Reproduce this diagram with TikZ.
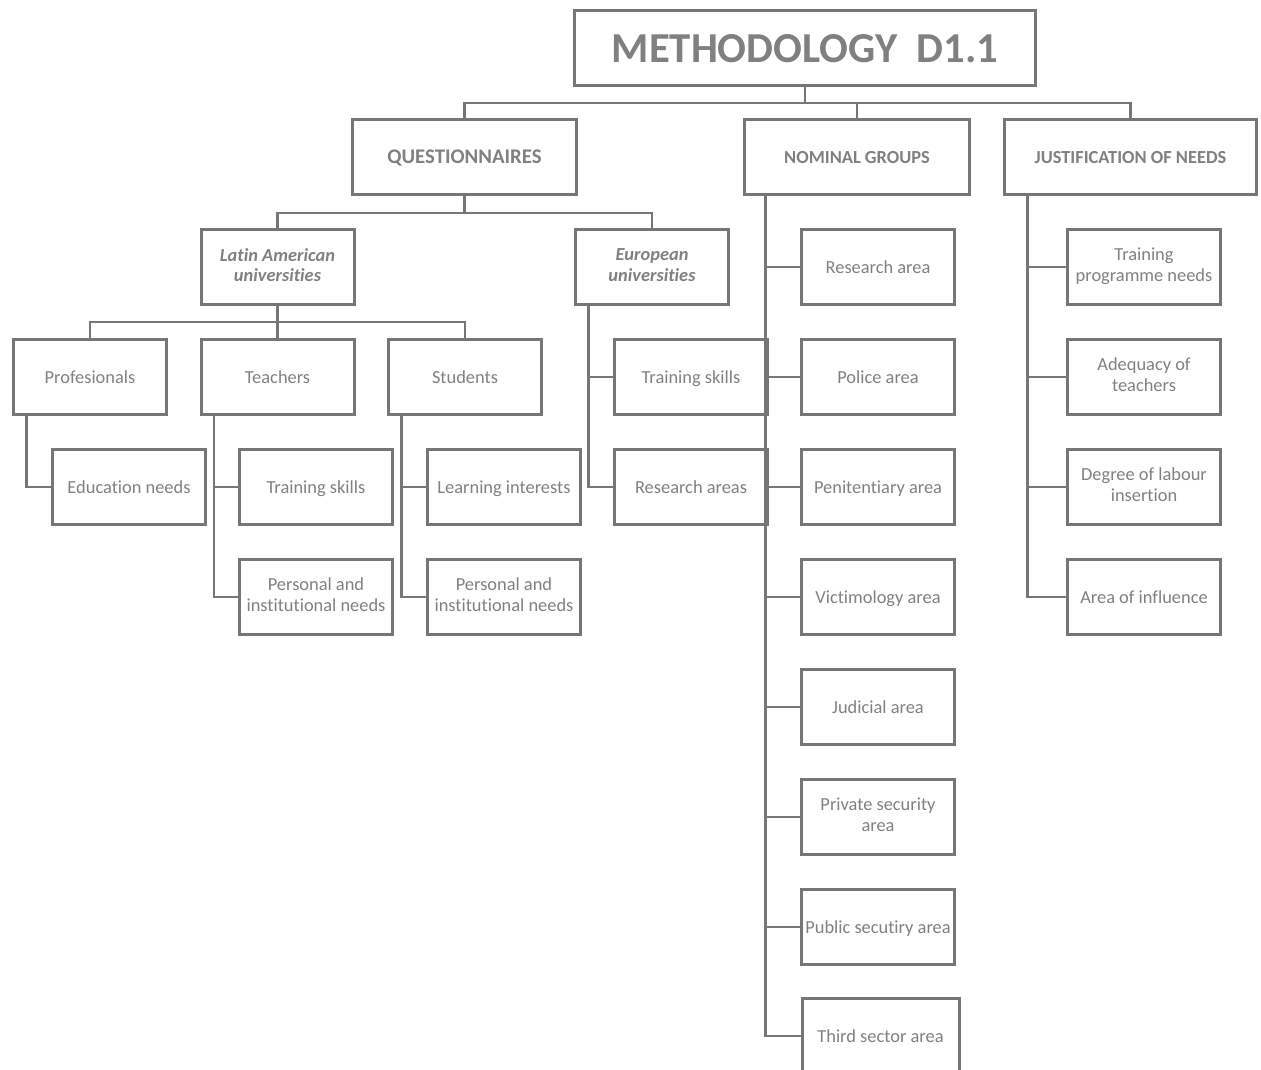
\documentclass[tikz,border=0pt]{standalone}
\usepackage{fontspec}
\setmainfont[RawFeature={-liga,-clig,-calt,-dlig}]{Carlito}
\usetikzlibrary{positioning,calc}
\definecolor{boxgray}{RGB}{118,118,118}
\definecolor{txtgray}{RGB}{128,128,128}
\newcommand\boxstrut{\rule[-0.23em]{0pt}{1.13em}}

\begin{document}
\begin{tikzpicture}[x=0.75pt,y=-0.75pt,
  box/.style={draw=boxgray,line width=2.25pt,minimum width=114.75pt,minimum height=56.25pt,
    align=center,text=txtgray,inner sep=1pt,font=\fontsize{13.8}{15.5}\selectfont,
    execute at begin node=\boxstrut,execute at end node=\boxstrut},
  head/.style={box,font=\fontsize{13.8}{15.5}\selectfont\bfseries},
  uni/.style={box,font=\fontsize{13.8}{15.5}\selectfont\bfseries\itshape},
  link/.style={draw=boxgray,line width=1.7pt}]
  \useasboundingbox (0,0) rectangle (1261,1070);

  % top levels
  \node[box,minimum width=345.75pt,font=\fontsize{32}{36}\selectfont\bfseries] (title) at (805,48) {METHODOLOGY\ \ D1.1};
  \node[head,minimum width=168pt,font=\fontsize{15.6}{18}\selectfont\bfseries] (quest) at (464.5,157) {QUESTIONNAIRES};
  \node[head,minimum width=168.75pt] (nomgr) at (857,157) {NOMINAL GROUPS};
  \node[head,minimum width=189pt] (just) at (1130.5,157) {JUSTIFICATION OF NEEDS};

  % questionnaires
  \node[uni] (latam) at (277.5,267) {Latin American\\universities};
  \node[uni] (euro) at (652,267) {European\\universities};
  \node[box] (prof) at (90,377) {Profesionals};
  \node[box] (teach) at (277.5,377) {Teachers};
  \node[box] (stud) at (465,377) {Students};
  \node[box] (eduneeds) at (129,487) {Education needs};
  \node[box] (tskill) at (316,487) {Training skills};
  \node[box] (tpers) at (316,597) {Personal and\\institutional needs};
  \node[box] (learn) at (504,487) {Learning interests};
  \node[box] (spers) at (504,597) {Personal and\\institutional needs};
  \node[box] (etrain) at (691,377) {Training skills};
  \node[box] (eres) at (691,487) {Research areas};

  % nominal groups
  \foreach \i/\txt in {1/Research area,2/Police area,3/Penitentiary area,4/Victimology area,
      5/Judicial area,6/{Private security\\area},7/Public secutiry area}
    \node[box] (n\i) at (878,157+110*\i) {\txt};
  \node[box,minimum width=117.75pt] (n8) at (880.5,1036) {Third sector area};

  % justification of needs
  \foreach \i/\txt in {1/{Training\\programme needs},2/{Adequacy of\\teachers},
      3/{Degree of labour\\insertion},4/Area of influence}
    \node[box] (j\i) at (1144,157+110*\i) {\txt};

  % connectors
  \draw[link] (title.south) -- ++(0,16) coordinate (tbus);
  \draw[link] (quest.north) |- (tbus) -| (just.north);
  \draw[link] (nomgr.north) -- (nomgr.north |- tbus);

  \draw[link] (quest.south) -- ++(0,17) coordinate (qbus);
  \draw[link] (latam.north) |- (qbus) -| (euro.north);

  \draw[link] (latam.south) -- ++(0,16) coordinate (lbus);
  \draw[link] (prof.north) |- (lbus) -| (stud.north);
  \draw[link] (teach.north) -- (lbus);

  \draw[link] ($(prof.south west)+(14.5,0)$) |- (eduneeds.west);
  \draw[link] ($(teach.south west)+(14.5,0)$) |- (tskill.west);
  \draw[link] ($(teach.south west)+(14.5,0)$) |- (tpers.west);
  \draw[link] ($(stud.south west)+(14.5,0)$) |- (learn.west);
  \draw[link] ($(stud.south west)+(14.5,0)$) |- (spers.west);
  \draw[link] ($(euro.south west)+(14.5,0)$) |- (etrain.west);
  \draw[link] ($(euro.south west)+(14.5,0)$) |- (eres.west);

  \foreach \i in {1,...,8}
    \draw[link] ($(nomgr.south west)+(22.5,0)$) |- (n\i.west);
  \foreach \i in {1,...,4}
    \draw[link] ($(just.south west)+(24.5,0)$) |- (j\i.west);
\end{tikzpicture}
\end{document}
